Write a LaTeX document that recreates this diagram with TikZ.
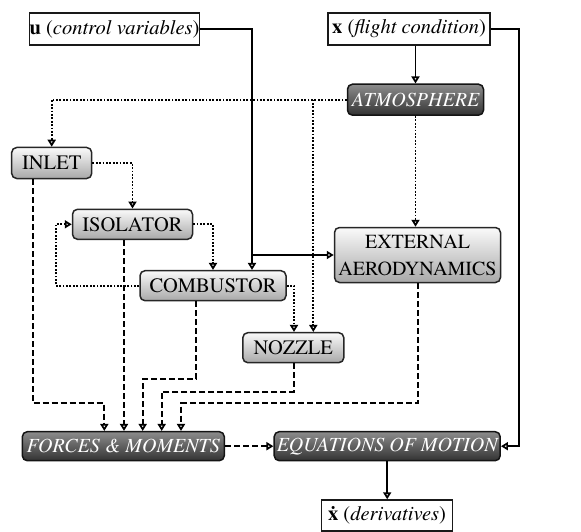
\documentclass[tikz,border=0pt]{standalone}
\usepackage{fontspec}
\IfFontExistsTF{texgyretermes-regular.otf}{%
  \setmainfont{texgyretermes}[Extension=.otf,UprightFont=*-regular,BoldFont=*-bold,ItalicFont=*-italic,BoldItalicFont=*-bolditalic]}{%
  \IfFontExistsTF{LiberationSerif-Regular.ttf}{%
    \setmainfont{LiberationSerif}[Extension=.ttf,UprightFont=*-Regular,BoldFont=*-Bold,ItalicFont=*-Italic,BoldItalicFont=*-BoldItalic]}{}}
\usetikzlibrary{arrows.meta,calc}
\begin{document}
\begin{tikzpicture}[x=1pt,y=-1pt,
 tip/.style={-{Triangle[length=7pt,width=8pt,fill=white]}},
 solidln/.style={line width=1.7pt, tip},
 dashln/.style={line width=1.7pt, dash pattern=on 6pt off 3pt, tip},
 dotln/.style={line width=1.8pt, dash pattern=on 1.8pt off 1.6pt, tip},
 plainbox/.style={draw=black!90, line width=1.4pt, fill=white, inner sep=0pt, font=\fontsize{20.5}{24}\selectfont},
 lightbox/.style={draw=black!85, line width=1.5pt, rounded corners=5pt, top color=black!2, bottom color=black!34, inner sep=0pt, font=\fontsize{20.5}{24}\selectfont},
 darkbox/.style={draw=black!92, line width=1.5pt, rounded corners=5pt, top color=black!45, middle color=black!78, bottom color=black!80, text=white, inner sep=0pt, font=\fontsize{20}{24}\selectfont\itshape},
]
\useasboundingbox (0,0) rectangle (581,532);

% nodes
\node[plainbox, minimum width=167pt, minimum height=32pt] (u) at (114.5,29) {\textbf{u} (\textit{control variables})};
\node[plainbox, minimum width=162pt, minimum height=32pt] (x) at (409,29) {\textbf{x} (\textit{flight condition})};
\node[darkbox, minimum width=136pt, minimum height=31pt] (atm) at (415.5,99.7) {ATMOSPHERE};
\node[lightbox, minimum width=80pt, minimum height=31pt] (inlet) at (51.7,163) {INLET};
\node[lightbox, minimum width=120pt, minimum height=30pt] (iso) at (132.5,224.3) {ISOLATOR};
\node[lightbox, minimum width=146pt, minimum height=30pt] (comb) at (213,285.7) {COMBUSTOR};
\node[lightbox, minimum width=166pt, minimum height=55pt, align=center, font=\fontsize{20}{27}\selectfont] (ext) at (417.5,255) {EXTERNAL\\AERODYNAMICS};
\node[lightbox, minimum width=101pt, minimum height=30pt] (noz) at (293.3,347.7) {NOZZLE};
\node[darkbox, minimum width=202pt, minimum height=29pt] (fm) at (123.3,446.2) {FORCES \& MOMENTS};
\node[darkbox, minimum width=226pt, minimum height=29pt] (eom) at (387.2,446.2) {EQUATIONS OF MOTION};
\node[plainbox, minimum width=131pt, minimum height=31pt] (xd) at (387,515.5) {\textbf{\.x} (\textit{derivatives})};

% helper coordinates
\coordinate (ucol) at (252,0);
\coordinate (xcol) at (519,0);
\coordinate (c313) at (313.3,0);
\coordinate (c56) at (55.7,0);
\coordinate (c294) at (294,0);
\coordinate (c33) at (32.7,0);
\coordinate (c196) at (196,0);
\coordinate (c418) at (417.7,0);
\coordinate (fx1) at (104.3,0);
\coordinate (fx2) at (124,0);
\coordinate (fx3) at (142.7,0);
\coordinate (fx4) at (161.7,0);
\coordinate (fx5) at (181,0);
\coordinate (h1) at (0,403.3);
\coordinate (h2) at (0,379);
\coordinate (h3) at (0,391.7);

% solid connectors
\draw[solidln] (u.east) -| (ucol |- comb.north);
\draw[solidln] (ucol |- ext.west) -- (ext.west);
\draw[solidln] (atm.north |- x.south) -- (atm.north);
\draw[solidln] (x.east) -| (xcol |- eom.east) -- (eom.east);
\draw[solidln] (eom.south) -- (eom.south |- xd.north);

% dotted connectors
\draw[dotln] (atm.west) -| (inlet.north);
\draw[dotln] (c313 |- atm.west) -- (c313 |- noz.north);
\draw[dotln] (atm.south) -- (atm.south |- ext.north);
\draw[dotln] (inlet.east) -| (iso.north);
\draw[dotln] (iso.east) -| (comb.north);
\draw[dotln] (comb.west) -| (c56 |- iso.west) -- (iso.west);
\draw[dotln] (comb.east) -| (c294 |- noz.north);

% dashed connectors
\draw[dashln] (c33 |- inlet.south) |- (fx1 |- h1) -- (fx1 |- fm.north);
\draw[dashln] (fx2 |- iso.south) -- (fx2 |- fm.north);
\draw[dashln] (c196 |- comb.south) |- (fx3 |- h2) -- (fx3 |- fm.north);
\draw[dashln] (c294 |- noz.south) |- (fx4 |- h3) -- (fx4 |- fm.north);
\draw[dashln] (c418 |- ext.south) |- (fx5 |- h1) -- (fx5 |- fm.north);
\draw[dashln] (fm.east) -- (eom.west);
\end{tikzpicture}
\end{document}
